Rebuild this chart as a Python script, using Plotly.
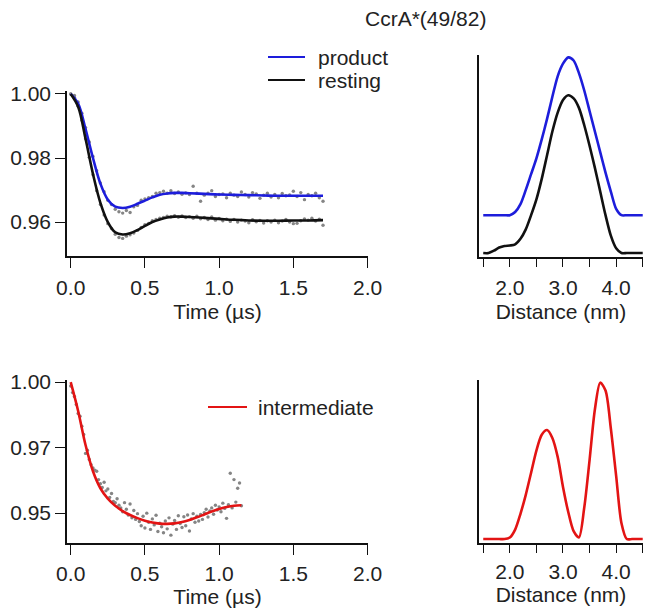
import plotly.graph_objects as go
from plotly.subplots import make_subplots

W, H = 654, 616

# time axis for the upper traces (us)
t_top = [0.0, 0.025, 0.05, 0.075, 0.1, 0.125, 0.15, 0.175, 0.2, 0.225, 0.25, 0.275,
         0.3, 0.325, 0.35, 0.375, 0.4, 0.425, 0.45, 0.475, 0.5, 0.525, 0.55, 0.575,
         0.6, 0.625, 0.65, 0.675, 0.7, 0.725, 0.75, 0.775, 0.8, 0.825, 0.85, 0.875,
         0.9, 0.925, 0.95, 0.975, 1.0, 1.025, 1.05, 1.075, 1.1, 1.125, 1.15, 1.175,
         1.2, 1.225, 1.25, 1.275, 1.3, 1.325, 1.35, 1.375, 1.4, 1.425, 1.45, 1.475,
         1.5, 1.525, 1.55, 1.575, 1.6, 1.625, 1.65, 1.675, 1.7]

product_dots = [1.0000, 0.9995, 0.9975, 0.9940, 0.9895, 0.9850, 0.9805, 0.9760, 0.9722, 0.9695,
                0.9668, 0.9655, 0.9640, 0.9632, 0.9628, 0.9636, 0.9630, 0.9648, 0.9652, 0.9668,
                0.9672, 0.9676, 0.9680, 0.9690, 0.9692, 0.9696, 0.9690, 0.9698, 0.9689, 0.9694,
                0.9687, 0.9691, 0.9686, 0.9712, 0.9690, 0.9665, 0.9684, 0.9690, 0.9698, 0.9680,
                0.9686, 0.9688, 0.9676, 0.9690, 0.9684, 0.9680, 0.9694, 0.9686, 0.9678, 0.9692,
                0.9688, 0.9674, 0.9684, 0.9690, 0.9678, 0.9686, 0.9676, 0.9689, 0.9682, 0.9685,
                0.9696, 0.9680, 0.9692, 0.9670, 0.9686, 0.9682, 0.9690, 0.9676, 0.9665]

resting_dots = [1.0000, 0.9990, 0.9962, 0.9918, 0.9860, 0.9802, 0.9748, 0.9698, 0.9655, 0.9622,
                0.9595, 0.9580, 0.9562, 0.9552, 0.9549, 0.9556, 0.9560, 0.9566, 0.9574, 0.9583,
                0.9592, 0.9596, 0.9604, 0.9608, 0.9612, 0.9614, 0.9618, 0.9616, 0.9620, 0.9615,
                0.9619, 0.9614, 0.9617, 0.9612, 0.9618, 0.9610, 0.9614, 0.9608, 0.9616, 0.9606,
                0.9611, 0.9604, 0.9609, 0.9602, 0.9608, 0.9600, 0.9606, 0.9603, 0.9598, 0.9607,
                0.9601, 0.9605, 0.9597, 0.9604, 0.9600, 0.9606, 0.9598, 0.9603, 0.9608, 0.9600,
                0.9595, 0.9596, 0.9604, 0.9610, 0.9606, 0.9612, 0.9603, 0.9609, 0.9590]

# fitted curves
t_fit = [0.0, 0.05, 0.1, 0.15, 0.2, 0.25, 0.3, 0.35, 0.4, 0.45, 0.5, 0.55, 0.6, 0.65,
         0.7, 0.75, 0.8, 0.9, 1.0, 1.1, 1.2, 1.3, 1.4, 1.5, 1.6, 1.7]
product_fit = [1.0, 0.997, 0.989, 0.980, 0.972, 0.967, 0.9648, 0.9644, 0.9648, 0.9657,
               0.9667, 0.9677, 0.9685, 0.9689, 0.9691, 0.9691, 0.9690, 0.9688, 0.9686,
               0.9685, 0.9684, 0.9683, 0.9682, 0.9682, 0.9682, 0.9682]
resting_fit = [1.0, 0.996, 0.986, 0.975, 0.966, 0.960, 0.9568, 0.9561, 0.9565, 0.9575,
               0.9588, 0.9600, 0.9608, 0.9614, 0.9617, 0.9617, 0.9616, 0.9613, 0.9610,
               0.9607, 0.9605, 0.9604, 0.9604, 0.9605, 0.9605, 0.9606]

# intermediate trace
t_mid = [0.0, 0.0125, 0.025, 0.0375, 0.05, 0.0625, 0.075, 0.0875, 0.1, 0.1125, 0.125, 0.1375,
         0.15, 0.1625, 0.175, 0.1875, 0.2, 0.2125, 0.225, 0.2375, 0.25, 0.2625, 0.275, 0.2875,
         0.3, 0.3125, 0.325, 0.3375, 0.35, 0.3625, 0.375, 0.3875, 0.4, 0.4125, 0.425, 0.4375,
         0.45, 0.4625, 0.475, 0.4875, 0.5, 0.5125, 0.525, 0.5375, 0.55, 0.5625, 0.575, 0.5875,
         0.6, 0.6125, 0.625, 0.6375, 0.65, 0.6625, 0.675, 0.6875, 0.7, 0.7125, 0.725, 0.7375,
         0.75, 0.7625, 0.775, 0.7875, 0.8, 0.8125, 0.825, 0.8375, 0.85, 0.8625, 0.875, 0.8875,
         0.9, 0.9125, 0.925, 0.9375, 0.95, 0.9625, 0.975, 0.9875, 1.0, 1.0125, 1.025, 1.0375,
         1.05, 1.0625, 1.075, 1.0875, 1.1, 1.1125, 1.125, 1.1375, 1.15]
intermediate_dots = [0.9985, 0.9960, 0.9945, 0.9915, 0.9880, 0.9870, 0.9832, 0.9800, 0.9728, 0.9740,
                     0.9705, 0.9685, 0.9672, 0.9664, 0.9660, 0.9628, 0.9612, 0.9598, 0.9618, 0.9585,
                     0.9592, 0.9560, 0.9575, 0.9545, 0.9540, 0.9555, 0.9530, 0.9520, 0.9505, 0.9540,
                     0.9515, 0.9493, 0.9535, 0.9482, 0.9510, 0.9476, 0.9498, 0.9468, 0.9452, 0.9488,
                     0.9443, 0.9500, 0.9465, 0.9438, 0.9478, 0.9455, 0.9492, 0.9430, 0.9462, 0.9448,
                     0.9425, 0.9470, 0.9440, 0.9482, 0.9416, 0.9458, 0.9472, 0.9438, 0.9490, 0.9460,
                     0.9445, 0.9486, 0.9452, 0.9493, 0.9432, 0.9478, 0.9498, 0.9465, 0.9488, 0.9470,
                     0.9495, 0.9476, 0.9502, 0.9515, 0.9485, 0.9508, 0.9520, 0.9496, 0.9530, 0.9512,
                     0.9524, 0.9505, 0.9538, 0.9518, 0.9480, 0.9532, 0.9652, 0.9520, 0.9628, 0.9542,
                     0.9595, 0.9615, 0.9528]
t_mid_fit = [0.0, 0.05, 0.1, 0.15, 0.2, 0.25, 0.3, 0.35, 0.4, 0.45, 0.5, 0.55, 0.6, 0.65,
             0.7, 0.75, 0.8, 0.85, 0.9, 0.95, 1.0, 1.05, 1.1, 1.15]
intermediate_fit = [1.000, 0.989, 0.976, 0.966, 0.9595, 0.9555, 0.9528, 0.9508, 0.9493, 0.9481,
                    0.9471, 0.9464, 0.9460, 0.9459, 0.9461, 0.9466, 0.9474, 0.9484, 0.9495,
                    0.9506, 0.9516, 0.9523, 0.9528, 0.9530]

# distance distributions (nm)
r = [1.5, 1.6, 1.7, 1.8, 1.9, 2.0, 2.1, 2.2, 2.3, 2.4, 2.5, 2.6, 2.7, 2.8, 2.9, 3.0,
     3.1, 3.2, 3.3, 3.4, 3.5, 3.6, 3.7, 3.8, 3.9, 4.0, 4.1, 4.2, 4.3, 4.4, 4.5]
p_resting = [0.0, 0.0, 0.015, 0.035, 0.045, 0.048, 0.055, 0.09, 0.15, 0.24, 0.34, 0.47, 0.62,
             0.77, 0.89, 0.97, 1.0, 0.98, 0.92, 0.81, 0.68, 0.54, 0.39, 0.24, 0.11, 0.03, 0.0,
             0.0, 0.0, 0.0, 0.0]
p_product = [0.0, 0.0, 0.0, 0.0, 0.0, 0.0, 0.02, 0.07, 0.16, 0.26, 0.36, 0.48, 0.61, 0.75,
             0.88, 0.96, 1.0, 0.98, 0.90, 0.79, 0.66, 0.53, 0.40, 0.27, 0.15, 0.04, 0.0, 0.0,
             0.0, 0.0, 0.0]
product_offset = 0.24
p_intermediate = [0.0, 0.0, 0.0, 0.0, 0.0, 0.01, 0.06, 0.16, 0.28, 0.42, 0.56, 0.66, 0.69,
                  0.64, 0.52, 0.33, 0.17, 0.05, 0.01, 0.20, 0.50, 0.82, 0.99, 0.94, 0.70,
                  0.40, 0.10, 0.0, 0.0, 0.0, 0.0]

r_ticks = [1.5, 2.0, 2.5, 3.0, 3.5, 4.0, 4.5]
r_ticktext = ["", "2.0", "", "3.0", "", "4.0", ""]

BLUE = "#1d1ddb"
BLACK = "#111111"
RED = "#e31414"
GRAY = "#858585"
FONT = "Arial, Liberation Sans, sans-serif"
FS = 21

fig = make_subplots(rows=2, cols=2)

def dots(x, y, row, col):
    fig.add_trace(go.Scatter(x=x, y=y, mode="markers", cliponaxis=False,
                             marker=dict(color=GRAY, size=3.4), showlegend=False),
                  row=row, col=col)

def curve(x, y, color, row, col, smooth=1.0):
    fig.add_trace(go.Scatter(x=x, y=y, mode="lines", cliponaxis=False,
                             line=dict(color=color, width=2.6, shape="spline", smoothing=smooth),
                             showlegend=False),
                  row=row, col=col)

dots(t_top, product_dots, 1, 1)
dots(t_top, resting_dots, 1, 1)
curve(t_fit, product_fit, BLUE, 1, 1)
curve(t_fit, resting_fit, BLACK, 1, 1)

curve(r, [v + product_offset for v in p_product], BLUE, 1, 2, 0.8)
curve(r, p_resting, BLACK, 1, 2, 0.8)

dots(t_mid, intermediate_dots, 2, 1)
curve(t_mid_fit, intermediate_fit, RED, 2, 1)

curve(r, p_intermediate, RED, 2, 2, 0.8)

axis_common = dict(showgrid=False, zeroline=False, showline=True, linecolor="#111",
                   linewidth=1.6, ticks="outside", ticklen=10, tickwidth=1.4, automargin=False,
                   tickcolor="#111", tickfont=dict(family=FONT, size=FS, color="#222"))
xtitle_font = dict(family=FONT, size=FS, color="#222")

def px_x(a, b):
    return [a / W, b / W]

def px_y(top, bottom):
    return [1 - bottom / H, 1 - top / H]

# top-left
fig.update_xaxes(axis_common, row=1, col=1, domain=px_x(67, 368), range=[-0.025, 2.003],
                 tickvals=[0, 0.5, 1.0, 1.5, 2.0], tickformat=".1f", ticklabelstandoff=2,
                 title=dict(text="Time (µs)", font=xtitle_font, standoff=6))
fig.update_yaxes(axis_common, row=1, col=1, domain=px_y(91.4, 256), range=[0.9494, 1.0008],
                 tickvals=[0.96, 0.98, 1.00], tickformat=".2f")

# bottom-left
fig.update_xaxes(axis_common, row=2, col=1, domain=px_x(67, 368), range=[-0.025, 2.003],
                 tickvals=[0, 0.5, 1.0, 1.5, 2.0], tickformat=".1f", ticklabelstandoff=1,
                 title=dict(text="Time (µs)", font=xtitle_font, standoff=4))
fig.update_yaxes(axis_common, row=2, col=1, domain=px_y(379.5, 543), range=[0.9386, 1.001],
                 tickvals=[0.95, 0.975, 1.0], ticktext=["0.95", "0.97", "1.00"])

# right panels
for row, dom, rng, lab_off, t_off in [(1, px_y(55, 257), [-0.025, 1.255], 3, 6),
                                      (2, px_y(379.5, 543), [-0.025, 1.01], 1, 4)]:
    fig.update_xaxes(axis_common, row=row, col=2, domain=px_x(479, 643), range=[1.42, 4.505],
                     tickvals=r_ticks, ticktext=r_ticktext, ticklen=8, ticklabelstandoff=lab_off,
                     title=dict(text="Distance (nm)", font=xtitle_font, standoff=t_off))
    fig.update_yaxes(row=row, col=2, domain=dom, range=rng, showgrid=False, zeroline=False,
                     automargin=False, showline=True, linecolor="#111", linewidth=1.6,
                     ticks="", showticklabels=False)

# title and legend keys
fig.add_annotation(text="CcrA*(49/82)", x=425 / W, y=1 - 18 / H, xref="paper", yref="paper",
                   yanchor="middle", showarrow=False, font=dict(family=FONT, size=FS, color="#222"))
legend_items = [("product", BLUE, 57), ("resting", BLACK, 80)]
for name, color, ypx in legend_items:
    fig.add_shape(type="line", xref="paper", yref="paper", x0=268 / W, x1=305 / W,
                  y0=1 - ypx / H, y1=1 - ypx / H, line=dict(color=color, width=2))
    fig.add_annotation(text=name, x=316 / W, y=1 - ypx / H, xref="paper", yref="paper",
                       xanchor="left", yanchor="middle", showarrow=False,
                       font=dict(family=FONT, size=FS, color="#222"))
fig.add_shape(type="line", xref="paper", yref="paper", x0=208 / W, x1=247 / W,
              y0=1 - 407 / H, y1=1 - 407 / H, line=dict(color=RED, width=2))
fig.add_annotation(text="intermediate", x=256 / W, y=1 - 407 / H, xref="paper", yref="paper",
                   xanchor="left", yanchor="middle", showarrow=False,
                   font=dict(family=FONT, size=FS, color="#222"))

fig.update_layout(width=W, height=H, margin=dict(l=0, r=0, t=0, b=0),
                  paper_bgcolor="white", plot_bgcolor="white", showlegend=False,
                  font=dict(family=FONT, size=FS, color="#222"))

# drop the default page margin so the figure sits at the window's corner
fig.write_html("out.html", config={"displayModeBar": False},
               post_script="document.body.style.margin='0px';")
